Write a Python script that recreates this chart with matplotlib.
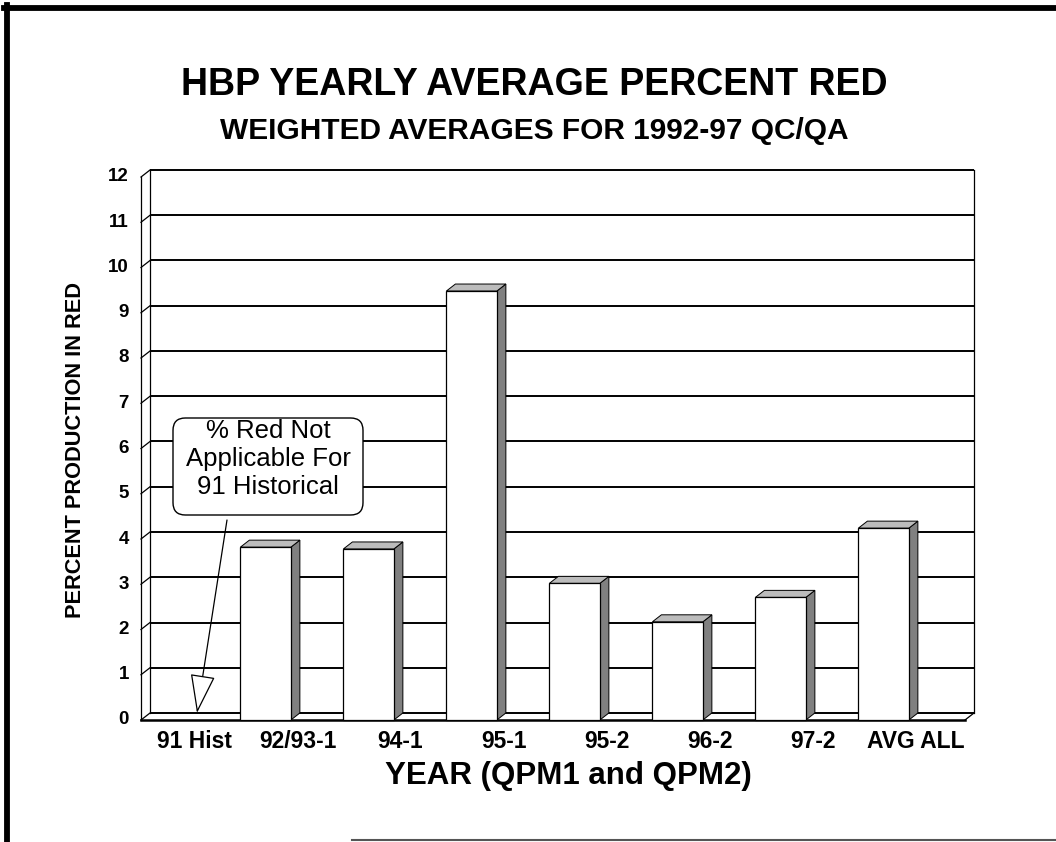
import numpy as np
import matplotlib
matplotlib.use("Agg")
import matplotlib.pyplot as plt
from matplotlib.patches import FancyBboxPatch
from matplotlib.lines import Line2D

plt.rcParams['font.family'] = ['Liberation Sans', 'DejaVu Sans']

# ---------------- data ----------------
categories = ['91 Hist', '92/93-1', '94-1', '95-1', '95-2', '96-2', '97-2', 'AVG ALL']
values = [np.nan, 3.82, 3.78, 9.48, 3.02, 2.17, 2.71, 4.24]
y_ticks = list(range(0, 13))
title = 'HBP YEARLY AVERAGE PERCENT RED'
subtitle = 'WEIGHTED AVERAGES FOR 1992-97 QC/QA'
x_title = 'YEAR (QPM1 and QPM2)'
y_title = 'PERCENT PRODUCTION IN RED'
note = '% Red Not\nApplicable For\n91 Historical'

# ---------------- layout ----------------
W, H = 1056, 842
fig = plt.figure(figsize=(W / 100, H / 100), dpi=100)
fig.patch.set_facecolor('white')

X0, X1 = 141, 965      # front plane left/right (px)
Y0, Y12 = 720, 177     # front plane y=0 / y=12 (px from top)
ax = fig.add_axes([X0 / W, 1 - Y0 / H, (X1 - X0) / W, (Y0 - Y12) / H])
n = len(categories)
ax.set_xlim(-0.5, n - 0.5)
ax.set_ylim(0, 12)
ax.axis('off')

ux = (X1 - X0) / n          # px per category
uy = (Y0 - Y12) / 12.0      # px per unit
dx = 9 / ux                 # depth offset in data units
dy = 7 / uy

def px_x(p):
    return (p - X0) / ux - 0.5

def px_y(p):
    return (Y0 - p) / uy

xl, xr = -0.5, n - 0.5

# back wall gridlines
for t in y_ticks:
    ax.plot([xl + dx, xr + dx], [t + dy, t + dy], color='black', lw=1.4,
            zorder=1, clip_on=False, solid_capstyle='butt')
    ax.plot([xl, xl + dx], [t, t + dy], color='black', lw=0.9, zorder=1, clip_on=False)
# walls
ax.plot([xl, xl], [0, 12], color='black', lw=0.9, zorder=1, clip_on=False)
ax.plot([xl + dx, xl + dx], [dy, 12 + dy], color='black', lw=0.9, zorder=1, clip_on=False)
ax.plot([xr + dx, xr + dx], [dy, 12 + dy], color='black', lw=0.9, zorder=1, clip_on=False)
# floor
ax.plot([xl, xr], [0, 0], color='black', lw=1.8, zorder=1, clip_on=False)
ax.plot([xr, xr + dx], [0, dy], color='black', lw=0.9, zorder=1, clip_on=False)

# bars
bar_w = 0.49
bar_off = -0.29
xs = np.arange(n) + bar_off
vals = np.array(values, dtype=float)
mask = ~np.isnan(vals)
ax.bar(xs[mask], vals[mask], width=bar_w, color='white', edgecolor='black',
       linewidth=0.9, zorder=4, clip_on=False)
for x, v in zip(xs[mask], vals[mask]):
    a, b = x - bar_w / 2, x + bar_w / 2
    ax.fill([b, b + dx, b + dx, b], [0, dy, v + dy, v], facecolor='#808080',
            edgecolor='black', lw=0.7, zorder=3, clip_on=False)
    ax.fill([a, b, b + dx, a + dx], [v, v, v + dy, v + dy], facecolor='#bcbcbc',
            edgecolor='black', lw=0.7, zorder=3, clip_on=False)

# tick labels
for t in y_ticks:
    ax.text(px_x(129), t, str(t), ha='right', va='center', fontsize=13.5,
            fontweight='bold', clip_on=False)
for i, c in enumerate(categories):
    ax.text(i + 0.02, px_y(741), c, ha='center', va='center', fontsize=16.5,
            fontweight='bold', clip_on=False)

# annotation box + arrow
bx0, bx1 = px_x(173), px_x(363)
by0, by1 = px_y(515), px_y(418)
box = FancyBboxPatch((bx0, by0), bx1 - bx0, by1 - by0,
                     boxstyle='round,pad=0,rounding_size=0.12',
                     mutation_aspect=ux / uy, facecolor='white',
                     edgecolor='black', lw=1.0, zorder=5, clip_on=False)
ax.add_patch(box)
ax.text((bx0 + bx1) / 2, px_y(459), note, ha='center', va='center',
        fontsize=18.5, linespacing=1.22, zorder=6, clip_on=False)
ax.annotate('', xy=(px_x(197), px_y(713)), xytext=(px_x(227), px_y(520)),
            arrowprops=dict(arrowstyle='-|>,head_length=1.25,head_width=0.4',
                            fc='white', ec='black', lw=0.9, mutation_scale=20,
                            shrinkA=0, shrinkB=0),
            zorder=6, annotation_clip=False)

# titles
fig.text(534 / W, 1 - 85 / H, title, ha='center', va='center', fontsize=27,
         fontweight='bold')
fig.text(534 / W, 1 - 131 / H, subtitle, ha='center', va='center', fontsize=21.5,
         fontweight='bold')
fig.text(568 / W, 1 - 776 / H, x_title, ha='center', va='center', fontsize=22.5,
         fontweight='bold')
fig.text(76 / W, 1 - 450 / H, y_title, ha='center', va='center', fontsize=15.7,
         fontweight='bold', rotation=90)

# frame of the scanned page
def fx(p):
    return p / W

def fy(p):
    return 1 - p / H

fig.add_artist(Line2D([fx(4), fx(W)], [fy(8), fy(8)], color='black', lw=4.2,
                      transform=fig.transFigure))
fig.add_artist(Line2D([fx(7), fx(7)], [fy(5), fy(H)], color='black', lw=4.2,
                      transform=fig.transFigure))
fig.add_artist(Line2D([fx(352), fx(W)], [fy(840), fy(840)], color='#555555', lw=1.5,
                      transform=fig.transFigure))

fig.savefig('out.png', dpi=100, facecolor='white')
